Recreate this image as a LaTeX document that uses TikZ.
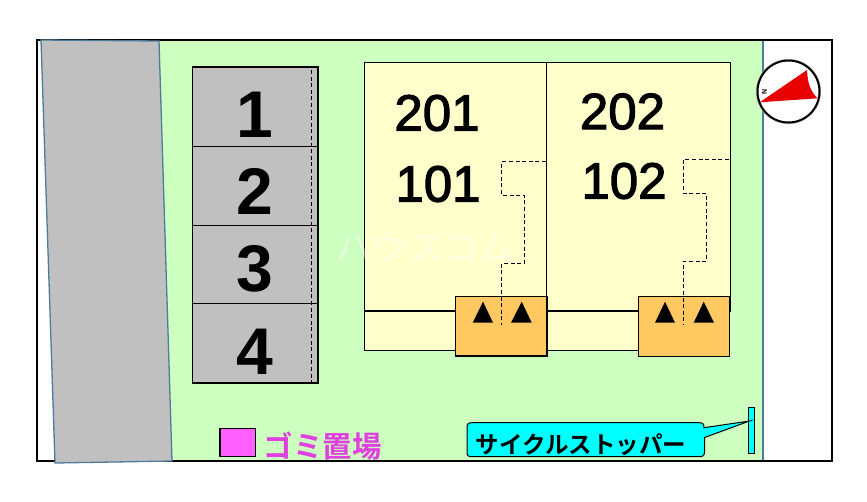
\documentclass[tikz,border=0pt]{standalone}
\usepackage{fontspec}
\setmainfont{Liberation Sans}
\newfontfamily\cjk{Noto Sans CJK JP}[BoldFont={* Bold}]
\newfontfamily\digitfont{Liberation Sans}[FakeBold=2.2]
\definecolor{lawn}{HTML}{CCFFC0}
\definecolor{house}{HTML}{FFFFCC}
\definecolor{road}{HTML}{C0C0C0}
\definecolor{edgeblue}{HTML}{507C9C}
\definecolor{porch}{HTML}{FFC860}
\definecolor{aqua}{HTML}{00FFFF}
\definecolor{pinkbox}{HTML}{FF60FF}
\definecolor{pinktext}{HTML}{E040E0}
\definecolor{compassred}{HTML}{E60000}
\tikzset{
  x=1pt,y=-1pt,
  thinline/.style={draw=black,line width=0.9pt},
  heavyline/.style={draw=black,line width=1.7pt},
  dashline/.style={draw=black,line width=0.8pt,dash pattern=on 4pt off 2.6pt},
  roomnum/.style={font=\fontsize{51}{51}\digitfont,inner sep=0pt,text=black},
  lotnum/.style={font=\fontsize{66}{66}\bfseries,inner sep=0pt,text=black},
  mark triangle/.style={fill=black,draw=none},
}
\begin{document}
\begin{tikzpicture}
\useasboundingbox (0,0) rectangle (867,501);
\fill[white] (0,0) rectangle (867,501);
% lawn
\fill[lawn] (150,40) rectangle (763,461);
\draw[edgeblue,line width=1.1pt] (763,40) -- (763,461);
% frame
\draw[black,line width=1.2pt] (37,40) rectangle (832,461);
% road
\draw[fill=road,draw=edgeblue,line width=1.3pt] (41,40) -- (159,41) -- (172,461) -- (55,463) -- cycle;
% parking
\fill[road] (192.5,67) rectangle (318,383);
\draw[thinline] (192.5,146.5) -- (318,146.5) (192.5,225.5) -- (318,225.5) (192.5,303.5) -- (318,303.5);
\draw[dashline] (311.7,70) -- (311.7,383);
\draw[thinline,line width=1.2pt] (192.5,67) rectangle (318,383);
\node[lotnum] (lot1) at (254.5,115) {1};
\node[lotnum] (lot2) at (255,191) {2};
\node[lotnum] (lot3) at (254.5,269) {3};
\node[lotnum] (lot4) at (254.5,352) {4};
% buildings
\fill[house] (364.3,62.7) rectangle (730.7,350);
\draw[thinline] (364.3,62.7) rectangle (730.7,350);
\fill[lawn] (639,350.5) rectangle (731.5,356.5);
\fill[lawn] (730,311.5) rectangle (731.5,351);
\draw[draw=black,line width=0.9pt] (730.7,62.7) -- (730.7,311);
\draw[thinline] (546.7,62.7) -- (546.7,350);
\draw[heavyline] (364.3,310.7) -- (730,310.7);
% watermark
\node[font=\fontsize{36}{36}\cjk,text=white,text opacity=0.4,inner sep=0pt] (mark) at (425,248) {ハウスコム};
% orange porches
\draw[fill=porch,draw=black,line width=1.3pt] (455.7,296.3) rectangle (547,356);
\draw[fill=porch,draw=black,line width=0.9pt] (638.3,296.3) rectangle (729.7,356);
% dashes
\draw[dashline] (546,161.7) -- (501.7,161.7) -- (501.7,195.3) -- (524.3,195.3) -- (524.3,263.3) -- (501.7,263.3) -- (501.7,325);
\draw[dashline] (729,159) -- (683.3,159) -- (683.3,193.3) -- (706.7,193.3) -- (706.7,261) -- (683.3,261) -- (683.3,325);
% triangles
\fill[mark triangle] (472.7,322.7) -- (493,322.7) -- (483,301.7) -- cycle;
\fill[mark triangle] (511,322.7) -- (531.7,322.7) -- (521.7,301.7) -- cycle;
\fill[mark triangle] (655,322.7) -- (675,322.7) -- (665,301.7) -- cycle;
\fill[mark triangle] (693.7,322.7) -- (714,322.7) -- (703.7,301.7) -- cycle;
% room numbers
\node[roomnum] (r201) at (437,113) {201};
\node[roomnum] (r101) at (438,184) {101};
\node[roomnum] (r202) at (622.5,111.5) {202};
\node[roomnum] (r102) at (624,181) {102};
% compass
\draw[draw=gray!60,line width=3pt] (788.5,91.5) circle (31);
\draw[fill=white,draw=black,line width=2pt] (788.5,91.5) circle (31);
\fill[compassred] (807,70) .. controls (807.5,84) and (811,92) .. (817.7,98.3) -- (759.7,102.3) -- cycle;
\node[font=\fontsize{7}{7}\bfseries,rotate=90,inner sep=0pt] (north) at (764.5,91.7) {N};
% garbage
\draw[fill=pinkbox,draw=black,line width=1.4pt] (219.8,428.6) rectangle (255.5,456.5);
\node[font=\fontsize{29.5}{30}\cjk\bfseries,text=pinktext,inner sep=0pt,anchor=west] (garbage) at (263.5,446) {ゴミ置場};
% stopper
\draw[fill=aqua,draw=black,line width=0.8pt] (748.3,407.3) rectangle (754.7,453.3);
\draw[fill=aqua,draw=black,line width=1pt] (472,422.7) -- (699,422.7) .. controls (703,422.7) and (704,424) .. (704,427.7) -- (749.5,421) -- (704.5,437.5) -- (704.5,452) .. controls (704.5,455.5) and (703,456.7) .. (699,456.7) -- (472,456.7) .. controls (468,456.7) and (467,455.5) .. (467,452) -- (467,427.7) .. controls (467,424) and (468,422.7) .. (472,422.7) -- cycle;
\node[font=\fontsize{23.5}{24}\cjk\bfseries,inner sep=0pt,anchor=west] (stopper) at (475.5,444.5) {サイクルストッパー};
\end{tikzpicture}
\end{document}
